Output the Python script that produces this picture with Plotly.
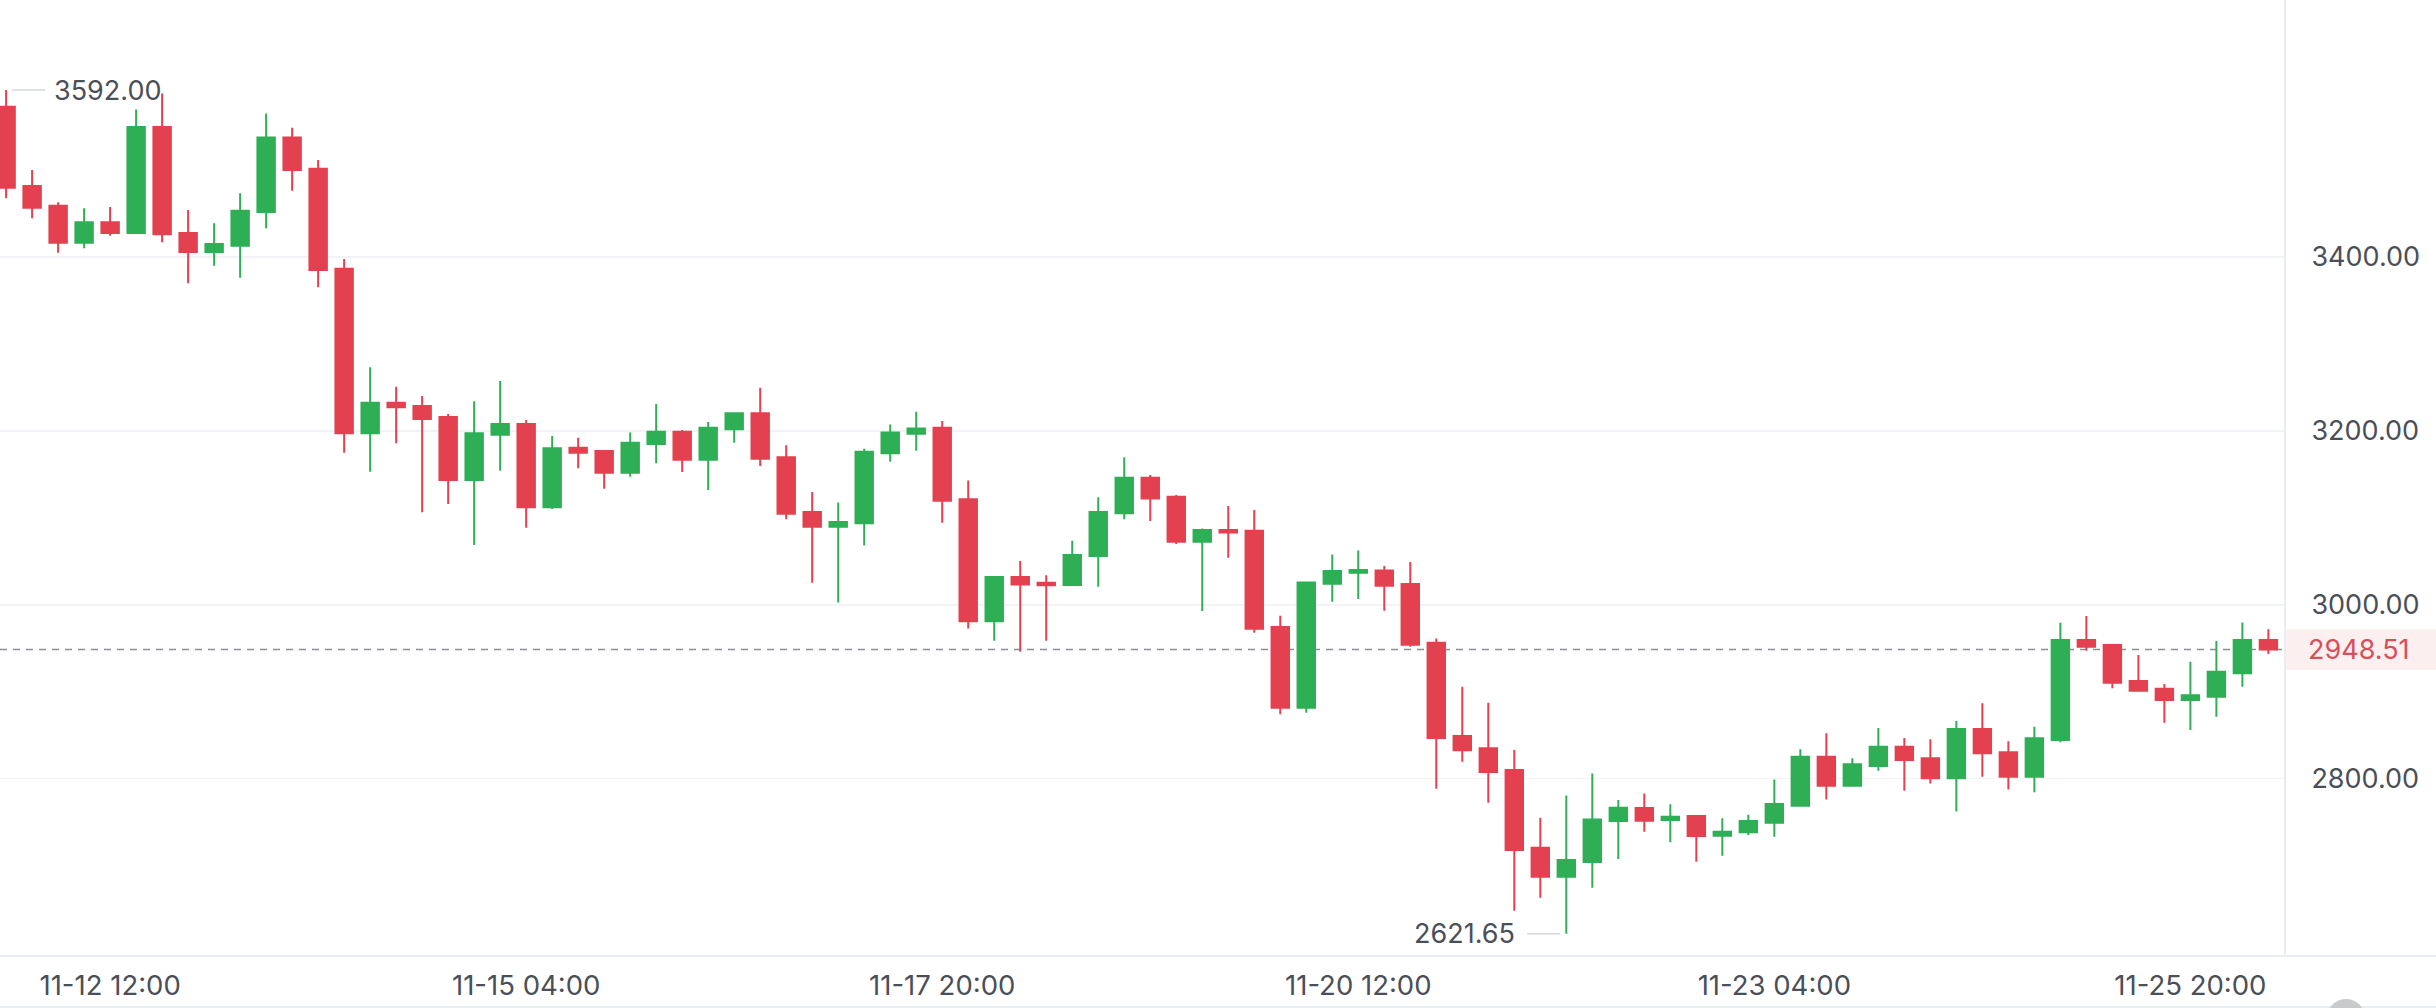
import pandas as pd
import plotly.graph_objects as go

# 4-hour candles
times = pd.date_range("2024-11-11 20:00", periods=88, freq="4h")

open_ = [3572.9, 3481.7, 3459.0, 3416.5, 3439.9, 3427.6, 3549.5, 3427.6, 3405.8, 3413.0,
         3451.7, 3537.6, 3501.6, 3386.6, 3197.2, 3232.5, 3228.7, 3216.0, 3143.5, 3195.7,
         3208.0, 3112.1, 3180.7, 3176.9, 3152.0, 3184.9, 3199.1, 3166.9, 3201.8, 3220.2,
         3169.6, 3106.7, 3089.8, 3093.7, 3174.2, 3196.8, 3203.7, 3121.3, 2981.0, 3031.9,
         3025.4, 3022.8, 3056.1, 3105.2, 3146.2, 3124.3, 3072.6, 3086.0, 3085.2, 2974.4,
         2881.7, 3024.3, 3036.9, 3039.6, 3023.9, 2956.4, 2849.1, 2834.9, 2810.0, 2720.7,
         2687.3, 2704.2, 2751.3, 2766.3, 2752.5, 2757.1, 2734.5, 2738.3, 2749.4, 2769.0,
         2825.3, 2792.0, 2814.6, 2836.8, 2823.4, 2800.4, 2857.1, 2830.3, 2802.3, 2844.5,
         2959.5, 2953.7, 2912.3, 2903.5, 2890.5, 2894.3, 2921.2, 2959.5]
high = [3592.0, 3500.1, 3462.9, 3456.0, 3457.5, 3569.8, 3588.2, 3454.1, 3438.8, 3473.2,
        3565.2, 3548.7, 3511.6, 3397.7, 3273.1, 3250.9, 3240.2, 3219.4, 3234.0, 3257.4,
        3212.6, 3194.2, 3192.2, 3178.0, 3198.3, 3230.9, 3201.0, 3210.2, 3221.0, 3249.7,
        3183.4, 3129.7, 3117.8, 3179.5, 3207.5, 3222.1, 3211.4, 3143.1, 3031.9, 3050.3,
        3033.9, 3073.7, 3123.6, 3169.6, 3149.2, 3126.2, 3087.9, 3113.6, 3109.0, 2987.5,
        3026.6, 3058.0, 3062.6, 3044.6, 3049.2, 2961.4, 2905.8, 2887.4, 2833.0, 2755.2,
        2780.8, 2806.1, 2775.5, 2783.1, 2770.5, 2757.1, 2754.4, 2758.6, 2799.2, 2833.8,
        2852.2, 2823.4, 2858.3, 2846.8, 2845.3, 2866.3, 2886.7, 2843.0, 2859.8, 2979.4,
        2987.1, 2953.7, 2942.2, 2908.9, 2934.6, 2958.3, 2979.8, 2971.8]
low = [3467.5, 3444.5, 3405.0, 3410.0, 3424.5, 3427.0, 3416.9, 3369.7, 3390.0, 3376.2,
       3433.0, 3476.3, 3365.1, 3175.0, 3153.1, 3185.7, 3106.4, 3115.9, 3068.8, 3154.3,
       3088.7, 3110.2, 3157.0, 3133.5, 3147.4, 3162.7, 3152.7, 3132.0, 3186.5, 3159.6,
       3098.3, 3025.4, 3002.8, 3068.3, 3164.6, 3177.2, 3094.4, 2972.9, 2958.7, 2946.1,
       2958.7, 3022.5, 3020.8, 3098.3, 3096.3, 3069.9, 2992.8, 3054.2, 2967.9, 2874.0,
       2875.9, 3003.6, 3006.6, 2993.2, 2951.8, 2788.5, 2819.6, 2772.4, 2648.2, 2663.1,
       2621.65, 2674.7, 2707.6, 2739.1, 2726.8, 2704.6, 2711.5, 2735.2, 2733.3, 2768.6,
       2776.2, 2791.5, 2809.2, 2786.2, 2794.6, 2762.4, 2802.3, 2787.7, 2784.3, 2841.8,
       2947.2, 2903.9, 2901.2, 2864.4, 2856.0, 2871.3, 2905.8, 2943.4]
close = [3479.8, 3456.7, 3416.5, 3439.9, 3427.6, 3549.5, 3426.1, 3405.8, 3415.0, 3453.3,
         3537.6, 3500.1, 3385.1, 3197.2, 3232.5, 3227.1, 3213.7, 3143.5, 3197.2, 3208.0,
         3112.1, 3180.0, 3175.0, 3152.0, 3186.5, 3199.1, 3166.9, 3203.7, 3220.2, 3168.0,
         3104.8, 3089.8, 3095.2, 3176.1, 3198.3, 3202.9, 3119.7, 2981.0, 3031.9, 3023.5,
         3022.4, 3057.3, 3106.7, 3146.2, 3122.4, 3072.6, 3086.0, 3083.3, 2972.5, 2881.7,
         3025.8, 3038.8, 3040.0, 3022.0, 2954.1, 2846.8, 2832.6, 2807.7, 2718.0, 2687.3,
         2706.5, 2753.2, 2766.7, 2751.7, 2756.3, 2734.1, 2739.1, 2751.3, 2770.9, 2825.3,
         2792.0, 2816.5, 2836.8, 2821.5, 2800.4, 2857.1, 2829.2, 2802.3, 2846.4, 2959.5,
         2951.8, 2910.4, 2901.2, 2890.5, 2895.9, 2923.1, 2959.5, 2948.51]

ytick_vals = [2800, 3000, 3200, 3400]
xtick_vals = ["2024-11-12 12:00", "2024-11-15 04:00", "2024-11-17 20:00",
              "2024-11-20 12:00", "2024-11-23 04:00", "2024-11-25 20:00"]

RED = "#E3414F"
GREEN = "#2EAF55"
TXT = "#4B4F57"
GRID = "#F1F3F6"
AXLINE = "#E9EDF0"
FONT = "Inter"

W, H = 2436, 1008
ML, MR, MT, MB = 0, 152, 0, 52
plot_w = W - ML - MR
plot_h = H - MT - MB

fig = go.Figure(go.Candlestick(
    x=times, open=open_, high=high, low=low, close=close,
    increasing=dict(line=dict(color=GREEN, width=2), fillcolor=GREEN),
    decreasing=dict(line=dict(color=RED, width=2), fillcolor=RED),
    whiskerwidth=0, showlegend=False, hoverinfo="skip",
))

step = pd.Timedelta(hours=4)
x_range = [times[0] - step * 0.235, times[0] + step * 87.6]
y_range = [2596.1, 3695.6]

last = close[-1]
hi_i = max(range(len(high)), key=lambda i: high[i])
lo_i = min(range(len(low)), key=lambda i: low[i])

shapes = [
    # last price dashed line
    dict(type="line", xref="paper", yref="y", x0=0, x1=1, y0=last, y1=last,
         line=dict(color="#8A8F96", width=1.5, dash="7px,6px"), layer="below"),
    # last price label background
    dict(type="rect", xref="paper", yref="y", x0=1.001, x1=W / plot_w,
         y0=last - 23.5, y1=last + 23.5, fillcolor="#FCEFEF", line=dict(width=0)),
    # bottom axis line across full width
    dict(type="line", xref="paper", yref="paper", x0=0, x1=W / plot_w, y0=0, y1=0,
         line=dict(color=AXLINE, width=2)),
    # bottom border line
    dict(type="line", xref="paper", yref="paper", x0=0, x1=W / plot_w,
         y0=-51 / plot_h, y1=-51 / plot_h, line=dict(color=AXLINE, width=2)),
    # leader lines for high / low labels
    dict(type="line", xref="x", yref="y", xsizemode="pixel", xanchor=times[hi_i],
         x0=6, x1=39, y0=high[hi_i], y1=high[hi_i], line=dict(color="#D5D8DC", width=1.5)),
    dict(type="line", xref="x", yref="y", xsizemode="pixel", xanchor=times[lo_i],
         x0=-39, x1=-6, y0=low[lo_i], y1=low[lo_i], line=dict(color="#D5D8DC", width=1.5)),
    # UI circle artifact at bottom right
    dict(type="circle", xref="paper", yref="paper",
         x0=2327 / plot_w, x1=2365 / plot_w,
         y0=-(1037 - plot_h) / plot_h, y1=-(999 - plot_h) / plot_h,
         fillcolor="#C9CACC", line=dict(width=0)),
]

annotations = [
    dict(xref="x", yref="y", x=times[hi_i], y=high[hi_i], text=f"{high[hi_i]:.2f}",
         showarrow=False, xanchor="left", yanchor="middle", xshift=46,
         font=dict(family=FONT, size=27, color=TXT)),
    dict(xref="x", yref="y", x=times[lo_i], y=low[lo_i], text=f"{low[lo_i]:.2f}",
         showarrow=False, xanchor="right", yanchor="middle", xshift=-49,
         font=dict(family=FONT, size=27, color=TXT)),
    dict(xref="paper", yref="y", x=1, y=last, text=f"{last:.2f}",
         showarrow=False, xanchor="left", yanchor="middle", xshift=22,
         font=dict(family=FONT, size=27, color="#D64F5A")),
]

fig.update_layout(
    width=W, height=H,
    margin=dict(l=ML, r=MR, t=MT, b=MB, pad=0),
    paper_bgcolor="white", plot_bgcolor="white",
    boxgap=0.33, boxgroupgap=0,
    shapes=shapes, annotations=annotations,
    showlegend=False, hovermode=False,
    xaxis=dict(
        type="date", range=x_range, rangeslider=dict(visible=False),
        tickvals=xtick_vals, tickformat="%m-%d %H:%M",
        showgrid=False, zeroline=False, showline=False, ticks="",
        ticklabelstandoff=10,
        tickfont=dict(family=FONT, size=27.5, color=TXT),
    ),
    yaxis=dict(
        side="right", range=y_range, tickvals=ytick_vals, tickformat=".2f",
        showgrid=True, gridcolor=GRID, gridwidth=1.5, zeroline=False,
        showline=True, linecolor=AXLINE, linewidth=2, ticks="",
        ticklabelstandoff=20,
        tickfont=dict(family=FONT, size=27, color=TXT),
    ),
)

fig.write_html(
    "out.html",
    config={"displayModeBar": False, "staticPlot": True},
    post_script="document.body.style.margin='0';document.body.style.overflow='hidden';",
)
